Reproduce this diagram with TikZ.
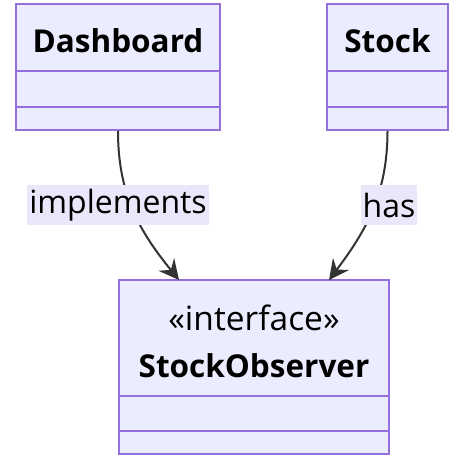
\documentclass[tikz,border=0pt]{standalone}
\usepackage{fontspec}
\setmainfont{Open Sans}
\usetikzlibrary{arrows.meta}
\definecolor{classfill}{HTML}{ECECFF}
\definecolor{classline}{HTML}{9370DB}
\definecolor{edgeline}{HTML}{333333}
\definecolor{labelfill}{HTML}{E8E8FA}
\tikzset{
  classbox/.style={draw=classline, fill=classfill, line width=2pt, inner sep=0pt},
  divider/.style={draw=classline, line width=2pt},
  title/.style={font=\bfseries\fontsize{31.5}{34}\selectfont, text=black, inner sep=0pt},
  stereo/.style={font=\fontsize{33.5}{36}\selectfont, text=black, inner sep=0pt},
  edgelabel/.style={fill=labelfill, font=\fontsize{32}{34}\selectfont, text=black, inner xsep=2pt, inner ysep=0pt, minimum height=40pt},
  relation/.style={draw=edgeline, line width=2pt, -{Stealth[length=20pt,width=20pt,inset=7pt]}},
}
\begin{document}
\begin{tikzpicture}[x=1pt,y=-1pt]
  \useasboundingbox (0,0) rectangle (450,457);

  % class boxes
  \node[classbox, minimum width=204pt, minimum height=126pt] (dash) at (118,67) {};
  \node[classbox, minimum width=121pt, minimum height=126pt] (stock) at (387.5,67) {};
  \node[classbox, minimum width=270pt, minimum height=174pt] (obs) at (254,367) {};

  % compartment dividers
  \draw[divider] (dash.west |- 0,71) -- (dash.east |- 0,71);
  \draw[divider] (dash.west |- 0,107) -- (dash.east |- 0,107);
  \draw[divider] (stock.west |- 0,71) -- (stock.east |- 0,71);
  \draw[divider] (stock.west |- 0,107) -- (stock.east |- 0,107);
  \draw[divider] (obs.west |- 0,396) -- (obs.east |- 0,396);
  \draw[divider] (obs.west |- 0,431) -- (obs.east |- 0,431);

  % class names
  \node[title] (dashname) at (118,41) {Dashboard};
  \node[title] (stockname) at (387.5,41) {Stock};
  \node[stereo] (obsstereo) at (254,318) {«interface»};
  \node[title] (obsname) at (254,366) {StockObserver};

  % arrow end points on the interface box
  \coordinate (implEnd) at (179,280);
  \coordinate (hasEnd) at (329,280);

  % relations
  \draw[relation] (dash.south) .. controls (118,195) and (140,232) .. (implEnd);
  \draw[relation] (stock.south) .. controls (387.5,195) and (365,232) .. (hasEnd);

  % relation labels
  \node[edgelabel] (impl) at (118,205) {implements};
  \node[edgelabel] (has) at (389,205) {has};
\end{tikzpicture}
\end{document}
